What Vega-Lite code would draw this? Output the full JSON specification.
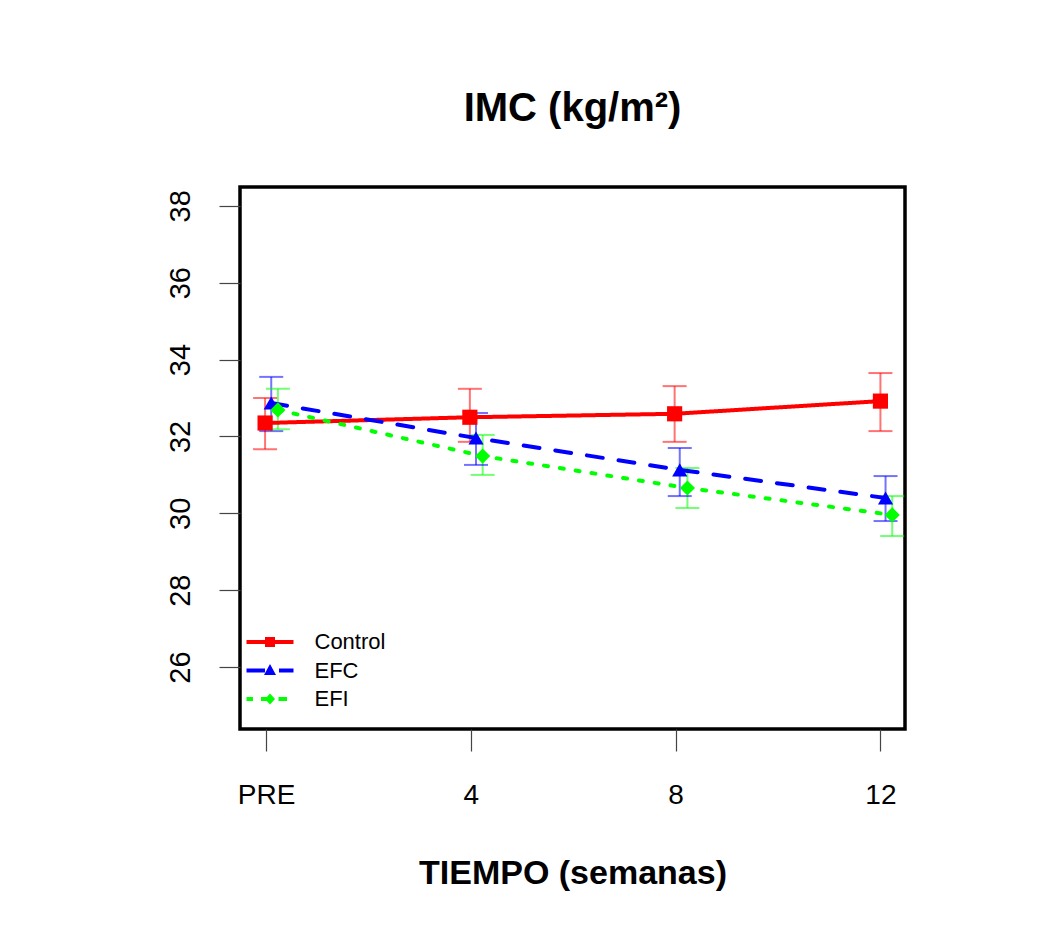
{
  "$schema": "https://vega.github.io/schema/vega-lite/v6.json",
  "autosize": {"type": "none"},
  "padding": {"left": 240, "top": 187, "right": 138, "bottom": 203},
  "width": 665,
  "height": 542,
  "background": "white",
  "title": {"text": "IMC (kg/m²)", "fontSize": 40, "fontWeight": "bold", "font": "Liberation Sans", "frame": "group", "anchor": "middle", "offset": 58, "color": "#000"},
  "data": {"values": [
    {"grupo": "Control", "t": -0.02, "m": 32.35, "lo": 31.67, "hi": 33.0},
    {"grupo": "Control", "t": 3.98, "m": 32.5, "lo": 31.86, "hi": 33.24},
    {"grupo": "Control", "t": 7.98, "m": 32.59, "lo": 31.86, "hi": 33.31},
    {"grupo": "Control", "t": 12.0, "m": 32.92, "lo": 32.14, "hi": 33.65},
    {"grupo": "EFC", "t": 0.1, "m": 32.87, "lo": 32.14, "hi": 33.55},
    {"grupo": "EFC", "t": 4.1, "m": 31.96, "lo": 31.26, "hi": 32.61},
    {"grupo": "EFC", "t": 8.08, "m": 31.13, "lo": 30.45, "hi": 31.7},
    {"grupo": "EFC", "t": 12.1, "m": 30.4, "lo": 29.8, "hi": 30.97},
    {"grupo": "EFI", "t": 0.23, "m": 32.69, "lo": 32.19, "hi": 33.24},
    {"grupo": "EFI", "t": 4.23, "m": 31.49, "lo": 31.0, "hi": 32.04},
    {"grupo": "EFI", "t": 8.23, "m": 30.66, "lo": 30.14, "hi": 31.18},
    {"grupo": "EFI", "t": 12.23, "m": 29.96, "lo": 29.41, "hi": 30.45}
  ]},
  "encoding": {
    "x": {"field": "t", "type": "quantitative", "scale": {"domain": [-0.51, 12.48], "nice": false, "zero": false},
      "axis": {"values": [0, 4, 8, 12], "labelExpr": "datum.value == 0 ? 'PRE' : datum.label", "title": "TIEMPO (semanas)"}}
  },
  "layer": [
    {
      "mark": {"type": "rule", "strokeWidth": 2, "opacity": 0.55},
      "encoding": {
        "y": {"field": "lo", "type": "quantitative", "scale": {"domain": [24.39, 38.49], "nice": false, "zero": false}, "axis": {"title": null, "values": [26, 28, 30, 32, 34, 36, 38]}},
        "y2": {"field": "hi"},
        "color": {"field": "grupo", "type": "nominal", "scale": {"domain": ["Control", "EFC", "EFI"], "range": ["#FF0000", "#0000FF", "#00FF00"]}, "legend": null}
      }
    },
    {
      "mark": {"type": "tick", "orient": "horizontal", "size": 24, "thickness": 2, "opacity": 0.55},
      "encoding": {
        "y": {"field": "lo", "type": "quantitative", "scale": {"domain": [24.39, 38.49], "nice": false, "zero": false}, "axis": {"title": null, "values": [26, 28, 30, 32, 34, 36, 38]}},
        "color": {"field": "grupo", "type": "nominal", "scale": {"domain": ["Control", "EFC", "EFI"], "range": ["#FF0000", "#0000FF", "#00FF00"]}, "legend": null}
      }
    },
    {
      "mark": {"type": "tick", "orient": "horizontal", "size": 24, "thickness": 2, "opacity": 0.55},
      "encoding": {
        "y": {"field": "hi", "type": "quantitative", "scale": {"domain": [24.39, 38.49], "nice": false, "zero": false}, "axis": {"title": null, "values": [26, 28, 30, 32, 34, 36, 38]}},
        "color": {"field": "grupo", "type": "nominal", "scale": {"domain": ["Control", "EFC", "EFI"], "range": ["#FF0000", "#0000FF", "#00FF00"]}, "legend": null}
      }
    },
    {
      "mark": {"type": "line", "strokeWidth": 4, "strokeCap": "round"},
      "encoding": {
        "y": {"field": "m", "type": "quantitative", "scale": {"domain": [24.39, 38.49], "nice": false, "zero": false}, "axis": {"title": null, "values": [26, 28, 30, 32, 34, 36, 38]}},
        "color": {"field": "grupo", "type": "nominal", "scale": {"domain": ["Control", "EFC", "EFI"], "range": ["#FF0000", "#0000FF", "#00FF00"]}, "legend": null},
        "strokeDash": {"field": "grupo", "type": "nominal", "scale": {"domain": ["Control", "EFC", "EFI"], "range": [[1, 0], [16, 16], [4, 12]]}, "legend": null}
      }
    },
    {
      "mark": {"type": "point", "filled": true, "opacity": 1, "size": 230},
      "encoding": {
        "y": {"field": "m", "type": "quantitative", "scale": {"domain": [24.39, 38.49], "nice": false, "zero": false}, "axis": {"title": null, "values": [26, 28, 30, 32, 34, 36, 38]}},
        "color": {"field": "grupo", "type": "nominal", "scale": {"domain": ["Control", "EFC", "EFI"], "range": ["#FF0000", "#0000FF", "#00FF00"]}, "legend": null},
        "shape": {"field": "grupo", "type": "nominal", "scale": {"domain": ["Control", "EFC", "EFI"], "range": ["square", "triangle-up", "diamond"]}, "legend": null}
      }
    },
    {
      "mark": {"type": "point", "filled": true, "opacity": 0},
      "encoding": {
        "y": {"field": "m", "type": "quantitative", "scale": {"domain": [24.39, 38.49], "nice": false, "zero": false}, "axis": {"title": null, "values": [26, 28, 30, 32, 34, 36, 38]}},
        "color": {"field": "grupo", "type": "nominal", "scale": {"domain": ["Control", "EFC", "EFI"], "range": ["#FF0000", "#0000FF", "#00FF00"]},
          "legend": {"title": null, "orient": "bottom-left", "offset": 19, "padding": 0, "symbolSize": 400, "symbolStrokeWidth": 0, "symbolOpacity": 1, "labelFontSize": 22, "labelFont": "Liberation Sans", "labelColor": "#000", "labelOffset": 33.5, "rowPadding": 6.5}},
        "shape": {"field": "grupo", "type": "nominal", "scale": {"domain": ["Control", "EFC", "EFI"], "range": [
          "M-2.35,-0.2H2.35V0.2H-2.35Z M-0.5,-0.5H0.5V0.5H-0.5Z",
          "M-2.35,-0.2H-0.5V0.2H-2.35Z M0.9,-0.2H2.35V0.2H0.9Z M0,-0.65L0.6,0.45H-0.6Z",
          "M-2.35,-0.2H-1.7V0.2H-2.35Z M-0.9,-0.2H-0.1V0.2H-0.9Z M0.85,-0.2H1.7V0.2H0.85Z M0,-0.55L0.5,0L0,0.55L-0.5,0Z"
        ]},
          "legend": {"title": null, "orient": "bottom-left", "offset": 19, "padding": 0, "symbolSize": 400, "symbolStrokeWidth": 0, "symbolOpacity": 1, "labelFontSize": 22, "labelFont": "Liberation Sans", "labelColor": "#000", "labelOffset": 33.5, "rowPadding": 6.5}}
      }
    }
  ],
  "resolve": {"scale": {"shape": "independent", "color": "independent"}},
  "config": {
    "font": "Liberation Sans",
    "view": {"stroke": "#000", "strokeWidth": 3.5},
    "axis": {"grid": false, "domain": false, "labelFont": "Liberation Sans", "labelColor": "#000", "tickColor": "#444", "tickWidth": 1.2, "labelOverlap": false, "labelFlush": false, "titleFont": "Liberation Sans", "titleColor": "#000"},
    "axisY": {"labelAngle": 270, "labelAlign": "center", "labelBaseline": "alphabetic", "labelFontSize": 29, "tickSize": 21, "labelPadding": 30},
    "axisX": {"labelFontSize": 28, "tickSize": 22, "labelPadding": 30, "titleFontSize": 34, "titleFontWeight": "bold", "titlePadding": 47}
  }
}
